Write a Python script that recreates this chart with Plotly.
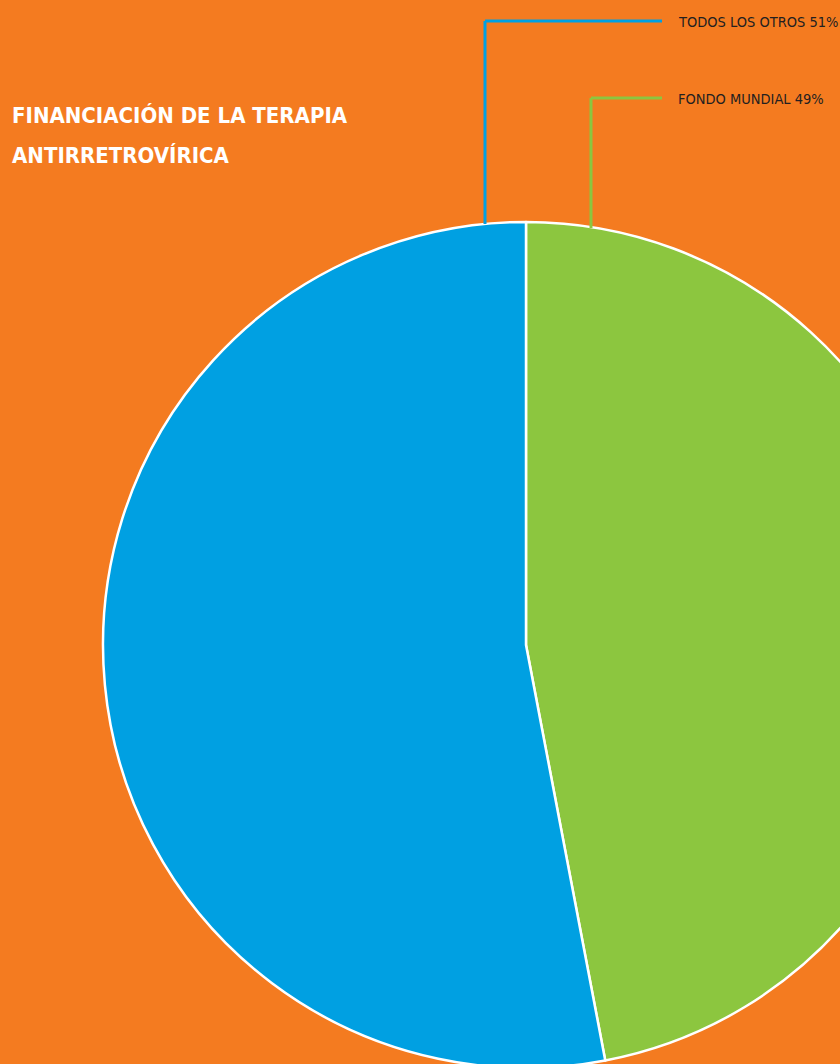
import plotly.graph_objects as go

# Data
categories = ["FONDO MUNDIAL", "TODOS LOS OTROS"]
slice_values = [47, 53]          # slice sizes as drawn
label_pcts = ["49%", "51%"]      # percentages printed in the labels
colors = ["#8CC63F", "#00A0E2"]
title_lines = ["FINANCIACIÓN DE LA TERAPIA", "ANTIRRETROVÍRICA"]

W, H = 960, 1080
BG = "#F47B20"
FONT = "DejaVu Sans Condensed, Liberation Sans Narrow, sans-serif"

def px(x):
    return x / W

def py(y):
    return 1 - y / H

cx, cy, r = 526, 645, 423

fig = go.Figure(go.Pie(
    labels=categories,
    values=slice_values,
    marker=dict(colors=colors, line=dict(color="white", width=2.5)),
    sort=False,
    direction="clockwise",
    rotation=0,
    textinfo="none",
    hoverinfo="label+percent",
    showlegend=False,
    domain=dict(x=[px(cx - r), px(cx + r)], y=[py(cy + r), py(cy - r)]),
))

shapes = []
annotations = []
# leader lines: (start on pie edge, corner y)
leaders = [
    (categories[1], label_pcts[1], colors[1], 485, 224, 21),
    (categories[0], label_pcts[0], colors[0], 591, 228, 98),
]
for cat, pct, col, lx, ly0, ly1 in leaders:
    shapes.append(dict(type="line", xref="paper", yref="paper",
                       x0=px(lx), y0=py(ly0), x1=px(lx), y1=py(ly1),
                       line=dict(color=col, width=3)))
    shapes.append(dict(type="line", xref="paper", yref="paper",
                       x0=px(lx), y0=py(ly1), x1=px(662), y1=py(ly1),
                       line=dict(color=col, width=3)))
    annotations.append(dict(xref="paper", yref="paper", x=px(676), y=py(ly1 + 1),
                            xanchor="left", yanchor="middle", showarrow=False,
                            text=f"{cat} {pct}",
                            font=dict(family=FONT, size=14.5, color="#231F20")))

for i, line in enumerate(title_lines):
    annotations.append(dict(xref="paper", yref="paper", x=px(10), y=py(115 + 41 * i),
                            xanchor="left", yanchor="middle", showarrow=False,
                            text=f"<b>{line}</b>",
                            font=dict(family=FONT, size=22, color="white")))

fig.update_layout(
    width=W, height=H,
    margin=dict(l=0, r=0, t=0, b=0),
    paper_bgcolor=BG, plot_bgcolor=BG,
    shapes=shapes, annotations=annotations,
)

fig.write_html("out.html", post_script="document.body.style.margin='0';document.body.style.overflow='hidden';document.documentElement.style.overflow='hidden';")
